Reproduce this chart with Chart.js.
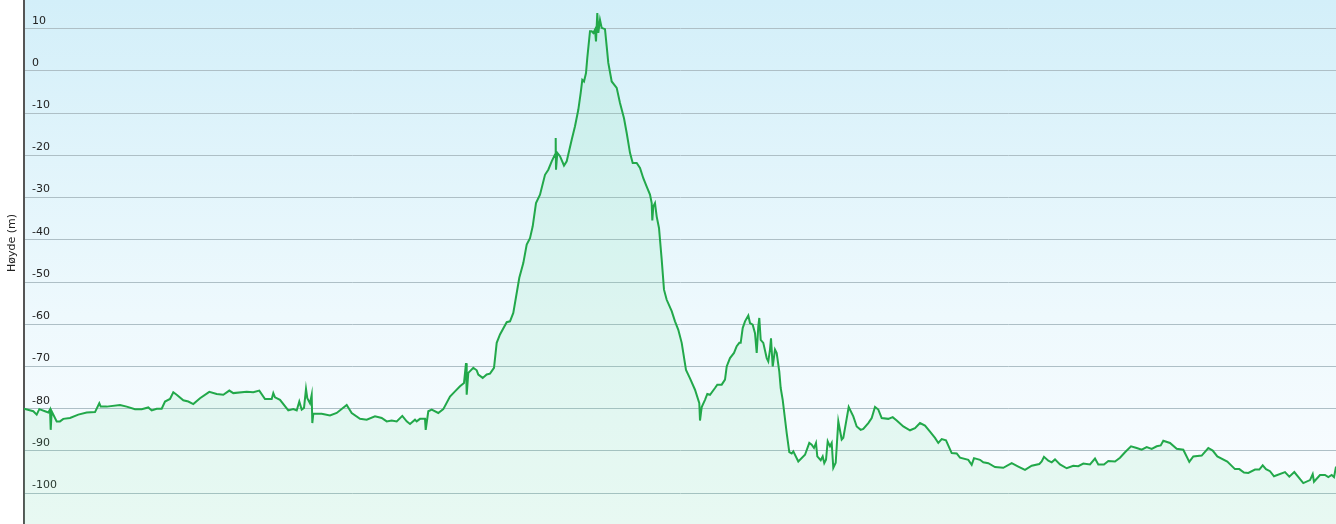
<!DOCTYPE html>
<html>
<head>
<meta charset="utf-8">
<script src="https://cdn.jsdelivr.net/npm/chart.js@4"></script>
<style>
  html, body { margin: 0; padding: 0; background: #fff; }
  #wrap { width: 1336px; height: 524px; }
</style>
</head>
<body>
<div id="wrap"><canvas id="profileChart"></canvas></div>
<script>
// distance along the route (m) and elevation (m)
var distances = [0,93,127,153,210,243,260,267,277,327,360,393,460,543,627,710,753,767,827,960,1027,1110,1177,1243,1277,1327,1377,1410,1460,1493,1527,1593,1643,1693,1760,1853,1927,1993,2053,2093,2227,2293,2353,
  2410,2477,2493,2510,2560,2643,2693,2727,2753,2777,2800,2820,2833,2860,2877,2883,2893,2977,3060,3127,3227,3277,3360,3427,3510,3577,3627,3677,3727,3783,3827,3860,3910,3927,3960,4010,4017,4043,4077,4143,4193,4260,4310,4360,4400,4420,4427,4443,4493,4527,4543,4587,4627,4660,4700,
  4727,4760,4827,4860,4893,4953,4993,5027,5060,5087,5120,5160,5210,5243,5277,5310,5317,5320,5333,5360,5400,5427,5477,5510,5543,5567,5583,5600,5620,5633,5660,5677,5693,5710,5720,5733,5743,5760,5777,5810,5827,5843,5877,5927,5960,6000,6027,6060,6087,6127,6160,6193,6227,6260,6277,6283,6293,6310,6327,6350,6377,6400,6427,6477,6510,6543,6577,6620,6660,6710,6753,6760,6777,6810,6833,6860,6910,6933,6977,7010,7027,7060,7100,7127,7153,7167,7187,7210,7243,7260,7287,7310,7327,7343,7353,7367,7393,7427,7443,7460,7470,7487,7510,7527,7553,7567,7587,7627,7653,7677,7693,7743,7810,7853,7877,7900,7920,7933,7967,7987,8003,8020,8037,8060,8077,8093,8117,8143,8177,8193,8247,8293,8327,8367,8393,8443,8477,8510,8543,8577,8643,8687,8727,8793,8860,8910,8960,9010,9060,9110,9143,9177,9220,9277,9327,9360,
  9443,9477,9500,9560,9593,9643,9710,9793,9877,9943,10010,10077,10153,10177,10200,10243,10277,10310,10360,10427,10493,10543,10593,10660,10710,10743,10800,10843,10910,10960,11010,11070,11127,11177,11227,11277,11327,11367,11393,11460,11527,11593,11653,11693,11777,11843,11887,11933,12033,12110,12153,12200,12243,12310,12353,12387,12420,12460,12500,12610,12653,12703,12793,12860,12887,12900,12960,13010,13043,13077,13100,13120];

var elevations = [-80.0,-80.6,-81.4,-80.1,-80.6,-80.9,-80.2,-85.0,-80.6,-83.0,-83.0,-82.4,-82.2,-81.4,-80.9,-80.8,-78.7,-79.5,-79.5,-79.1,-79.5,-80.1,-80.1,-79.7,-80.4,-80.0,-80.0,-78.3,-77.7,-76.1,-76.7,-78.0,-78.3,-78.9,-77.5,-76.0,-76.5,-76.7,-75.7,-76.3,-76.0,-76.1,-75.7,
  -77.7,-77.7,-76.3,-77.3,-77.9,-80.4,-80.1,-80.4,-78.3,-80.2,-79.8,-75.3,-77.5,-78.7,-76.7,-83.4,-81.2,-81.2,-81.6,-81.0,-79.1,-81.0,-82.4,-82.6,-81.8,-82.2,-83.0,-82.8,-83.0,-81.7,-83.0,-83.6,-82.6,-83.0,-82.4,-82.4,-85.0,-80.6,-80.2,-81.0,-80.1,-77.1,-75.9,-74.7,-73.9,-69.2,-76.7,-71.5,-70.3,-70.9,-71.9,-72.7,-71.9,-71.7,-70.3,
  -64.4,-62.4,-59.5,-59.3,-57.3,-49.0,-45.5,-41.1,-39.6,-36.8,-31.3,-29.3,-24.6,-23.4,-21.4,-19.8,-15.9,-23.4,-19.4,-20.2,-22.4,-21.4,-16.3,-13.1,-9.2,-5.2,-2.1,-2.5,-0.5,3.1,9.4,9.4,9.0,9.8,7.0,13.7,9.0,12.1,10.2,9.9,5.8,1.9,-2.5,-4.0,-7.6,-11.2,-14.7,-19.4,-21.8,-21.8,-23.0,-25.4,-27.4,-29.3,-31.3,-35.4,-32.1,-31.3,-34.5,-37.2,-44.7,-51.8,-54.2,-56.9,-59.3,-61.3,-64.4,-70.8,-72.8,-75.5,-78.7,-82.8,-79.6,-77.9,-76.5,-76.7,-75.1,-74.3,-74.3,-73.1,-70.0,-68.0,-66.8,-65.2,-64.4,-64.4,-60.9,-59.3,-57.9,-59.7,-60.1,-62.1,-66.8,-60.5,-58.5,-63.7,-64.4,-68.0,-68.8,-66.0,-63.3,-70.0,-66.0,-66.8,-71.2,-75.1,-77.9,-85.8,-90.3,-90.6,-90.1,-92.5,-90.9,-88.1,-88.5,-89.3,-88.1,-91.3,-92.2,-91.3,-92.9,-92.1,-87.7,-88.9,-88.1,-94.0,-92.8,-83.0,-87.3,-86.9,-79.6,-81.8,-84.2,-85.0,-84.8,-83.4,-82.2,-79.6,-80.2,-82.2,-82.4,-82.0,-82.8,-84.2,-85.1,-84.6,-83.4,-84.0,-85.4,-86.9,-88.1,-87.2,-87.5,-90.5,-90.6,-91.6,
  -92.1,-93.3,-91.7,-92.1,-92.7,-92.9,-93.8,-94.0,-92.9,-93.7,-94.5,-93.5,-93.1,-92.5,-91.4,-92.3,-92.7,-92.0,-93.2,-94.1,-93.5,-93.6,-93.0,-93.2,-91.8,-93.2,-93.2,-92.4,-92.5,-91.6,-90.3,-88.9,-89.3,-89.7,-89.1,-89.5,-88.9,-88.7,-87.6,-88.1,-89.5,-89.7,-92.6,-91.3,-91.1,-89.3,-89.9,-91.3,-92.5,-94.3,-94.3,-95.1,-95.2,-94.4,-94.4,-93.4,-94.3,-94.8,-96.0,-95.0,-96.1,-95.0,-97.6,-96.9,-95.5,-97.3,-95.7,-95.7,-96.2,-95.7,-96.2,-93.7];

var yTicks = [10, 0, -10, -20, -30, -40, -50, -60, -70, -80, -90, -100];
var axisTitle = "Høyde (m)";

var points = distances.map(function(d, i) {
    return { x: d, y: elevations[i] };
});

// Sky gradient behind the plot, and the rotated axis title
var backdrop = {
    id: 'backdrop',
    beforeDraw: function(chart) {
        var ctx = chart.ctx;
        var a = chart.chartArea;
        var g = ctx.createLinearGradient(0, a.top, 0, a.bottom);
        g.addColorStop(0, '#d3eff9');
        g.addColorStop(0.6, '#eef9fd');
        g.addColorStop(1, '#fbfdff');
        ctx.save();
        ctx.fillStyle = g;
        ctx.fillRect(a.left, a.top, a.right - a.left, a.bottom - a.top);
        ctx.restore();
    },
    afterDraw: function(chart) {
        var ctx = chart.ctx;
        ctx.save();
        ctx.translate(12, 243);
        ctx.rotate(-Math.PI / 2);
        ctx.font = '11px "DejaVu Sans", Verdana, sans-serif';
        ctx.fillStyle = '#222';
        ctx.textAlign = 'center';
        ctx.textBaseline = 'middle';
        ctx.fillText(axisTitle, 0, 0);
        ctx.restore();
    }
};

var ctx = document.getElementById('profileChart').getContext('2d');
var chart = new Chart(ctx, {
    type: 'line',
    data: {
        datasets: [{
            label: axisTitle,
            data: points,
            borderColor: '#22a84a',
            borderWidth: 2,
            backgroundColor: 'rgba(100, 225, 150, 0.12)',
            fill: 'start',
            pointRadius: 0,
            tension: 0
        }]
    },
    options: {
        responsive: true,
        maintainAspectRatio: false,
        animation: false,
        layout: { padding: { left: 24, right: 0, top: 0, bottom: 0 } },
        plugins: {
            legend: { display: false },
            tooltip: { enabled: false }
        },
        scales: {
            x: {
                type: 'linear',
                display: false,
                min: 0,
                max: 13120
            },
            y: {
                min: -107.3,
                max: 16.8,
                afterBuildTicks: function(scale) {
                    scale.ticks = yTicks.map(function(v) { return { value: v }; });
                },
                afterFit: function(scale) {
                    // labels sit inside the plot, so the axis takes no room
                    scale.width = 0;
                    scale.paddingTop = 0;
                    scale.paddingBottom = 0;
                },
                grid: { color: '#aebfc6', lineWidth: 1, drawTicks: false },
                border: { display: true, color: '#555', width: 2 },
                ticks: {
                    mirror: true,
                    padding: 8,
                    labelOffset: -8,
                    color: '#222',
                    font: { family: '"DejaVu Sans", Verdana, sans-serif', size: 11 }
                }
            }
        }
    },
    plugins: [backdrop]
});
</script>
</body>
</html>
